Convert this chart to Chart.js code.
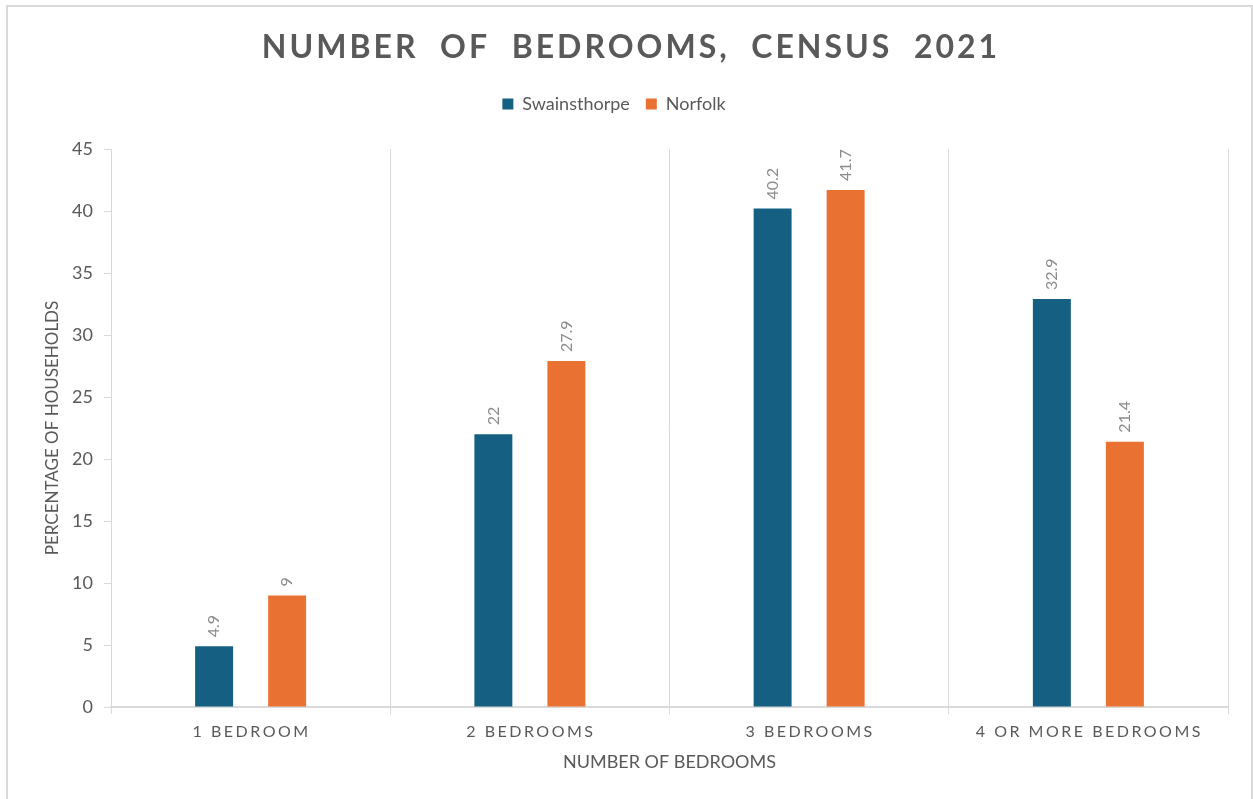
<!DOCTYPE html>
<html>
<head>
<meta charset="utf-8">
<script src="https://cdn.jsdelivr.net/npm/chart.js@4.4.1/dist/chart.umd.min.js"></script>
<style>
  html, body { margin: 0; padding: 0; background: #fff; }
  #wrap { position: relative; width: 1253px; height: 799px; overflow: hidden; }
  #frame { position: absolute; left: 6px; top: 5px; width: 1247px; height: 820px; box-sizing: border-box;
           border: 2px solid #d9d9d9; border-bottom: none; pointer-events: none; }
</style>
</head>
<body>
<div id="wrap">
  <canvas id="bedroomsChart" width="1253" height="799"></canvas>
  <div id="frame"></div>
</div>
<script>
// Number of bedrooms, Census 2021
var categories = ['1 BEDROOM', '2 BEDROOMS', '3 BEDROOMS', '4 OR MORE BEDROOMS'];
var swainsthorpe = [4.9, 22, 40.2, 32.9];
var norfolk = [9, 27.9, 41.7, 21.4];
var yTicks = [0, 5, 10, 15, 20, 25, 30, 35, 40, 45];

var colors = {
    blue: '#156082',
    orange: '#E97132',
    text: '#595959',
    label: '#8c8c8c',
    grid: '#d9d9d9'
};
var fontFamily = 'Lato, "Open Sans", sans-serif';

// title + spaced category labels + rotated value labels
var extras = {
    id: 'extras',
    beforeLayout: function(chart) {
        // leave extra room between legend and plot area
        var lg = chart.legend;
        if (lg && !lg._padded) {
            var fit = lg.fit;
            lg.fit = function() { fit.call(this); this.height += 26; };
            lg._padded = true;
        }
    },
    afterDraw: function(chart) {
        var ctx = chart.ctx;
        ctx.save();
        ctx.fillStyle = colors.text;
        ctx.font = 'bold 32px ' + fontFamily;
        ctx.letterSpacing = '3px';
        ctx.textAlign = 'center';
        ctx.textBaseline = 'middle';
        ctx.fillText('NUMBER  OF  BEDROOMS,  CENSUS  2021', 631, 48);

        var x = chart.scales.x;
        ctx.font = '16px ' + fontFamily;
        ctx.letterSpacing = '2.5px';
        categories.forEach(function(c, i) {
            ctx.fillText(c, x.getPixelForValue(i) + 1, 732);
        });

        ctx.letterSpacing = '0px';
        ctx.font = '16px ' + fontFamily;
        ctx.fillStyle = colors.label;
        ctx.textAlign = 'left';
        chart.data.datasets.forEach(function(ds, di) {
            chart.getDatasetMeta(di).data.forEach(function(bar, i) {
                ctx.save();
                ctx.translate(bar.x, bar.y - 9);
                ctx.rotate(-Math.PI / 2);
                ctx.fillText(String(ds.data[i]), 0, 0);
                ctx.restore();
            });
        });
        ctx.restore();
    }
};

new Chart(document.getElementById('bedroomsChart'), {
    type: 'bar',
    data: {
        labels: categories,
        datasets: [{
            label: 'Swainsthorpe',
            data: swainsthorpe,
            backgroundColor: colors.blue,
            categoryPercentage: 0.523,
            barPercentage: 0.52
        }, {
            label: 'Norfolk',
            data: norfolk,
            backgroundColor: colors.orange,
            categoryPercentage: 0.523,
            barPercentage: 0.52
        }]
    },
    options: {
        responsive: false,
        animation: false,
        layout: { padding: { top: 79, right: 25, left: 0, bottom: 0 } },
        plugins: {
            title: { display: false },
            tooltip: { enabled: false },
            legend: {
                position: 'top',
                labels: {
                    boxWidth: 11,
                    boxHeight: 11,
                    color: colors.text,
                    font: { size: 18, family: fontFamily },
                    padding: 16
                }
            }
        },
        scales: {
            x: {
                grid: { offset: true, color: colors.grid, tickLength: 7 },
                border: { color: colors.grid, width: 2 },
                ticks: { display: false },
                title: {
                    display: true,
                    text: 'NUMBER OF BEDROOMS',
                    color: colors.text,
                    font: { size: 18, family: fontFamily },
                    padding: 26
                },
                afterFit: function(scale) { scale.height = 92; }
            },
            y: {
                min: 0,
                max: 45,
                afterBuildTicks: function(scale) {
                    scale.ticks = yTicks.map(function(v) { return { value: v }; });
                },
                grid: { drawOnChartArea: false, color: colors.grid, tickLength: 7 },
                border: { color: colors.grid, width: 1 },
                ticks: {
                    color: colors.text,
                    font: { size: 18, family: fontFamily },
                    padding: 11
                },
                title: {
                    display: true,
                    text: 'PERCENTAGE OF HOUSEHOLDS',
                    color: colors.text,
                    font: { size: 17, family: fontFamily },
                    padding: 42
                },
                afterFit: function(scale) { scale.width = 111; }
            }
        }
    },
    plugins: [extras]
});
</script>
</body>
</html>
